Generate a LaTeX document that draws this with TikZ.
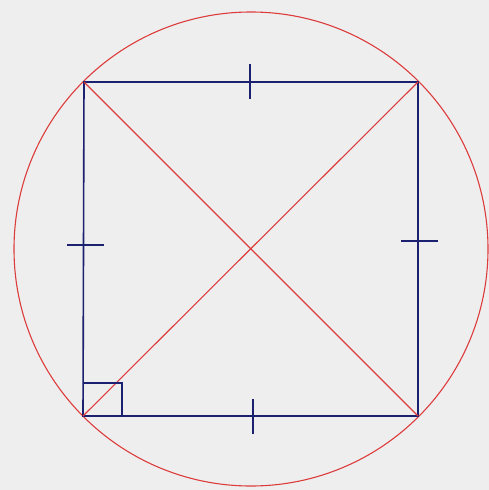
\documentclass[tikz,border=0pt]{standalone}
\definecolor{bg}{HTML}{EEEEEE}
\definecolor{navy}{HTML}{1C2070}
\definecolor{redc}{HTML}{DD3C3C}
\begin{document}
\begin{tikzpicture}[x=1pt,y=-1pt,
  side/.style={navy,line width=1.6pt},
  redline/.style={redc,line width=1.1pt},
  tickmark/.style={navy,line width=1.4pt}]
\fill[bg] (0,0) rectangle (489,490);
\useasboundingbox (0,0) rectangle (489,490);
\coordinate (A) at (84,82);
\coordinate (B) at (418,82);
\coordinate (C) at (418,416);
\coordinate (D) at (83,416);
\coordinate (O) at (251,249);
\draw[redline] (O) circle (237);
\draw[side] (A) -- (B) -- (C) -- (D) -- cycle;
\draw[redline] (A) -- (C);
\draw[redline] (D) -- (B);
\draw[navy,line width=1.3pt] (83,383) -- (122,383) -- (122,416);
\draw[tickmark] (250,64) -- (250,99);
\draw[tickmark] (253,399) -- (253,434);
\draw[tickmark] (67,245) -- (104,245);
\draw[tickmark] (401,241) -- (438,241);
\end{tikzpicture}
\end{document}
